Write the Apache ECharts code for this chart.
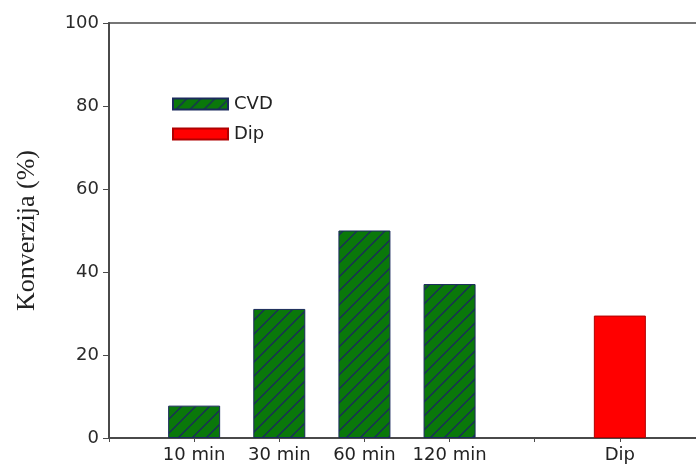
<!DOCTYPE html>
<html><head><meta charset="utf-8">
<script src="https://cdn.jsdelivr.net/npm/echarts@6/dist/echarts.min.js"></script>
<style>html,body{margin:0;padding:0;background:#fff}#c{width:696px;height:470px}</style>
</head><body><div id="c"></div>
<script>
const categories = ['', '10 min', '30 min', '60 min', '120 min', '', 'Dip', ''];
const cvdValues = [null, 7.8, 31.1, 50, 37.1, null, null, null];
const dipValues = [null, null, null, null, null, null, 29.5, null];
const yTicks = [0, 20, 40, 60, 80, 100];

function hatch() {
  const s = 14, c = document.createElement('canvas');
  c.width = s; c.height = s;
  const g = c.getContext('2d');
  g.fillStyle = '#0a780a'; g.fillRect(0, 0, s, s);
  g.strokeStyle = '#1b2a5c'; g.lineWidth = 1.3;
  g.beginPath();
  g.moveTo(-2, s + 2); g.lineTo(s + 2, -2);
  g.moveTo(-2, 2); g.lineTo(2, -2);
  g.moveTo(s - 2, s + 2); g.lineTo(s + 2, s - 2);
  g.stroke();
  return c;
}
const font = 'DejaVu Sans, Verdana, sans-serif';
const chart = echarts.init(document.getElementById('c'));
chart.setOption({
  animation: false,
  grid: { left: 109, top: 23, width: 596, height: 415, show: true, borderColor: '#4a4a4a', borderWidth: 1.5,
          containLabel: false, outerBoundsMode: 'none' },
  legend: {
    orient: 'vertical', left: 167, top: 90, itemWidth: 55, itemHeight: 11, itemGap: 12,
    icon: 'rect',
    textStyle: { fontFamily: font, fontSize: 18, color: '#222', padding: [0, 0, 0, 1] },
    data: ['CVD', 'Dip']
  },
  xAxis: {
    type: 'category', data: categories, boundaryGap: false,
    axisLine: { lineStyle: { color: '#4a4a4a', width: 2 } },
    axisTick: { length: 4, interval: 0, lineStyle: { color: '#4a4a4a' } },
    axisLabel: { interval: 0, hideOverlap: false, fontFamily: font, fontSize: 18, color: '#222', margin: 8 },
    splitLine: { show: false }
  },
  yAxis: {
    type: 'value', min: yTicks[0], max: yTicks[yTicks.length - 1], interval: 20,
    name: 'Konverzija (%)', nameLocation: 'middle', nameGap: 69,
    nameTextStyle: { fontFamily: 'Liberation Serif, Times New Roman', fontSize: 26, color: '#222' },
    axisLine: { show: true, lineStyle: { color: '#4a4a4a', width: 2 } },
    axisTick: { show: true, length: 6, lineStyle: { color: '#4a4a4a' } },
    axisLabel: { fontFamily: font, fontSize: 18, color: '#2a2a2a', margin: 10 },
    splitLine: { show: false }
  },
  series: [
    { name: 'CVD', type: 'bar', data: cvdValues, barWidth: 52, barGap: '-100%',
      itemStyle: { color: { image: hatch(), repetition: 'repeat' }, borderColor: '#1b2a5c', borderWidth: 1 } },
    { name: 'Dip', type: 'bar', data: dipValues, barWidth: 52,
      itemStyle: { color: '#ff0000', borderColor: '#b00000', borderWidth: 1 } }
  ]
});
</script></body></html>
